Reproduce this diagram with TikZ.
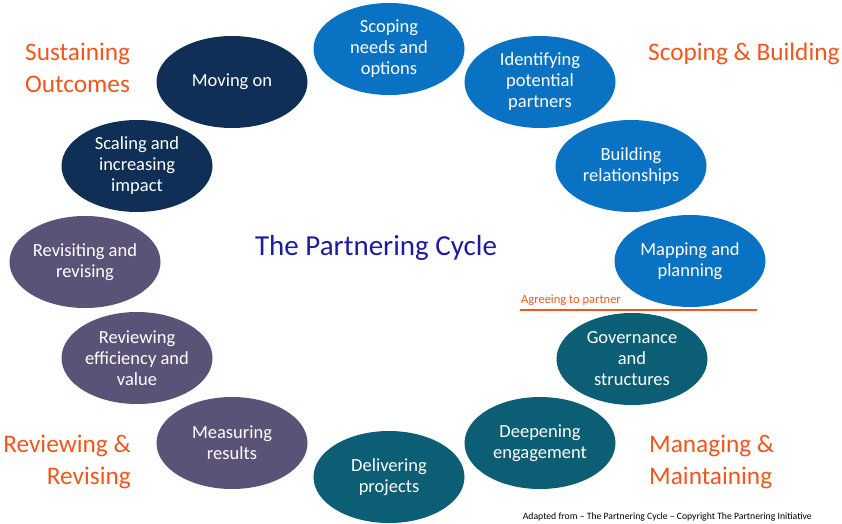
\documentclass[tikz,border=0pt]{standalone}
\usepackage{fontspec}
\setmainfont{Carlito}
\usetikzlibrary{shapes.geometric}

\definecolor{scopeblue}{HTML}{0A72C2}
\definecolor{manteal}{HTML}{0B5E74}
\definecolor{revpurple}{HTML}{5A5377}
\definecolor{susnavy}{HTML}{0F2F56}
\definecolor{phaseorange}{HTML}{F2561D}
\definecolor{titleblue}{HTML}{1C1CA0}

\begin{document}
\begin{tikzpicture}[x=1pt,y=-1pt]

\tikzset{stage/.style = {shape=ellipse,text=white,inner sep=0pt,minimum width=151pt,minimum height=92pt,align=center,font=\fontsize{18.5}{21}\selectfont}}
\tikzset{phase/.style = {text=phaseorange,inner sep=0pt,font=\fontsize{25.3}{32}\selectfont}}

\useasboundingbox (0,0) rectangle (842,523);

%stages
\node[stage, fill=scopeblue] (scope) at (389,49) {Scoping\\needs and\\options};
\node[stage, fill=scopeblue] (ident) at (540,82) {Identifying\\potential\\partners};
\node[stage, fill=scopeblue] (build) at (631,166) {Building\\relationships};
\node[stage, fill=scopeblue] (map) at (690,261) {Mapping and\\planning};
\node[stage, fill=manteal] (gov) at (632,359) {Governance\\and\\structures};
\node[stage, fill=manteal] (deep) at (540,443) {Deepening\\engagement};
\node[stage, fill=manteal] (deliver) at (389,477) {Delivering\\projects};
\node[stage, fill=revpurple] (measure) at (232,443) {Measuring\\results};
\node[stage, fill=revpurple] (review) at (137,358) {Reviewing\\efficiency and\\value};
\node[stage, fill=revpurple] (revisit) at (85,262) {Revisiting and\\revising};
\node[stage, fill=susnavy] (scale) at (137,166) {Scaling and\\increasing\\impact};
\node[stage, fill=susnavy] (moving) at (232,82) {Moving on};

%phases
\node[phase, anchor=west] (build-ph) at (648,54) {Scoping \& Building};
\node[phase, anchor=west, align=left] (sustain-ph) at (25,68) {Sustaining\\Outcomes};
\node[phase, anchor=east, align=right] (review-ph) at (131,462) {Reviewing \&\\Revising};
\node[phase, anchor=west, align=left] (manage-ph) at (649,462) {Managing \&\\Maintaining};

\node[text=titleblue, font=\fontsize{29}{34}\selectfont] (title) at (376,248) {The Partnering Cycle};

%agreeing line
\coordinate (agree-l) at (520,310);
\coordinate (agree-r) at (757,310);
\draw[phaseorange, line width=2.8pt] (agree-l) -- (agree-r);
\node[text=phaseorange, anchor=base west, inner sep=0pt, font=\fontsize{12.5}{14}\selectfont] (agree) at ([xshift=1pt,yshift=7pt]agree-l) {Agreeing to partner};

\node[anchor=south east, inner sep=0pt, font=\fontsize{9.7}{11}\selectfont] (credit) at (812,521) {Adapted from -- The Partnering Cycle -- Copyright The Partnering Initiative};

\end{tikzpicture}
\end{document}
